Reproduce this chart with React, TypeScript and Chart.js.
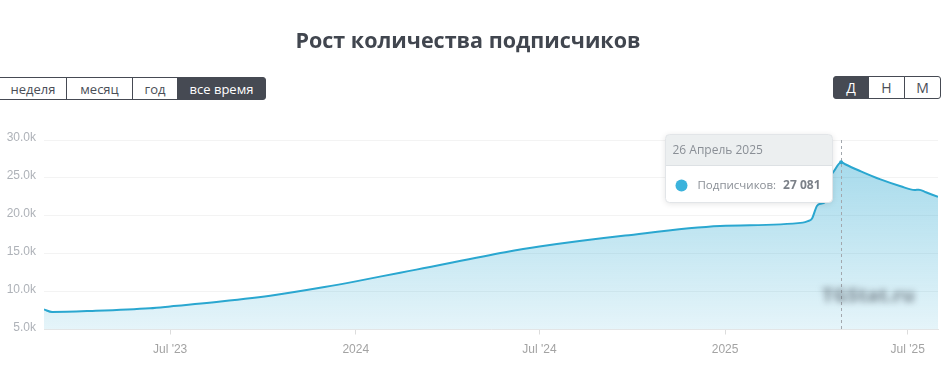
import React, { useEffect, useRef } from "react";
import { Chart, registerables } from "chart.js";

Chart.register(...registerables);

const TITLE = "Рост количества подписчиков";
const rangeButtons = ["неделя", "месяц", "год", "все время"];
const rangeWidths = [68, 67, 46, 89];
const periodButtons = ["Д", "Н", "М"];
const seriesName = "Подписчиков";

const dates = [
  "2023-02-26", "2023-03-06", "2023-04-15", "2023-06-11", "2023-07-01",
  "2023-08-20", "2023-10-13", "2023-12-01", "2024-01-01", "2024-02-14",
  "2024-03-01", "2024-05-28", "2024-07-01", "2024-09-24", "2024-12-27",
  "2025-03-19", "2025-03-24", "2025-03-28", "2025-04-02", "2025-04-06",
  "2025-04-10", "2025-04-13", "2025-04-19", "2025-04-26", "2025-04-30",
  "2025-05-15", "2025-06-04", "2025-06-24", "2025-07-08", "2025-07-12",
  "2025-07-19", "2025-07-31",
];
const subscribers = [
  7640, 7310, 7450, 7800, 8040,
  8700, 9560, 10600, 11350, 12500,
  12900, 15200, 15950, 17400, 18650,
  19100, 19300, 19600, 21300, 21600,
  21800, 24400, 25900, 27081, 26800,
  25900, 24800, 23900, 23400, 23450,
  23100, 22500,
];

const xMinDate = "2023-02-26";
const xMaxDate = "2025-07-31";
const xTickDates = ["2023-07-01", "2024-01-01", "2024-07-01", "2025-01-01", "2025-07-01"];
const xTickLabels = ["Jul '23", "2024", "Jul '24", "2025", "Jul '25"];
const yMin = 5000;
const yMax = 30000;
const yStep = 5000;

const hoverDate = "2025-04-26";
const monthsRu = [
  "Январь", "Февраль", "Март", "Апрель", "Май", "Июнь",
  "Июль", "Август", "Сентябрь", "Октябрь", "Ноябрь", "Декабрь",
];

const dayNum = (s: string) => {
  const [y, m, d] = s.split("-").map(Number);
  return Date.UTC(y, m - 1, d) / 86400000;
};

const fmtThousands = (v: number) =>
  String(Math.round(v)).replace(/\B(?=(\d{3})+(?!\d))/g, " ");

const fmtDateRu = (s: string) => {
  const [y, m, d] = s.split("-").map(Number);
  return `${d} ${monthsRu[m - 1]} ${y}`;
};

const FONT = '"Open Sans", "Noto Sans", sans-serif';

function roundRect(ctx: CanvasRenderingContext2D, x: number, y: number, w: number, h: number, r: number) {
  ctx.beginPath();
  ctx.moveTo(x + r, y);
  ctx.lineTo(x + w - r, y);
  ctx.arcTo(x + w, y, x + w, y + r, r);
  ctx.lineTo(x + w, y + h - r);
  ctx.arcTo(x + w, y + h, x + w - r, y + h, r);
  ctx.lineTo(x + r, y + h);
  ctx.arcTo(x, y + h, x, y + h - r, r);
  ctx.lineTo(x, y + r);
  ctx.arcTo(x, y, x + r, y, r);
  ctx.closePath();
}

const fixedTooltip = {
  id: "fixedTooltip",
  afterDatasetsDraw(chart: any) {
    const idx = dates.indexOf(hoverDate);
    const meta = chart.getDatasetMeta(0);
    const pt = meta.data[idx];
    if (!pt) return;
    const { ctx, chartArea } = chart;
    ctx.save();
    const cx = Math.round(pt.x) + 0.5;
    ctx.strokeStyle = "#a2a7ad";
    ctx.lineWidth = 1;
    ctx.setLineDash([3, 3]);
    ctx.beginPath();
    ctx.moveTo(cx, chartArea.top);
    ctx.lineTo(cx, chartArea.bottom);
    ctx.stroke();
    ctx.setLineDash([]);

    ctx.fillStyle = "#2aa7d0";
    ctx.beginPath();
    ctx.arc(pt.x, pt.y, 2, 0, Math.PI * 2);
    ctx.fill();

    const w = 167;
    const h = 68;
    const bx = Math.round(pt.x) - 9 - w + 0.5;
    const by = Math.round(chartArea.top) - 6 + 0.5;
    const headerH = 31;

    ctx.save();
    ctx.shadowColor = "rgba(0,0,0,0.12)";
    ctx.shadowBlur = 6;
    ctx.shadowOffsetY = 1;
    roundRect(ctx, bx, by, w, h, 4);
    ctx.fillStyle = "#ffffff";
    ctx.fill();
    ctx.restore();

    ctx.save();
    roundRect(ctx, bx, by, w, h, 4);
    ctx.clip();
    ctx.fillStyle = "#eceff0";
    ctx.fillRect(bx, by, w, headerH);
    ctx.strokeStyle = "#dde1e4";
    ctx.beginPath();
    ctx.moveTo(bx, by + headerH);
    ctx.lineTo(bx + w, by + headerH);
    ctx.stroke();
    ctx.restore();

    roundRect(ctx, bx, by, w, h, 4);
    ctx.strokeStyle = "#e2e5e8";
    ctx.stroke();

    ctx.textBaseline = "middle";
    ctx.textAlign = "left";
    ctx.font = `12px ${FONT}`;
    ctx.fillStyle = "#8a8f96";
    ctx.fillText(fmtDateRu(hoverDate), bx + 7, by + 16);

    ctx.fillStyle = "#3bb3dc";
    ctx.beginPath();
    ctx.arc(bx + 16, by + 51, 6, 0, Math.PI * 2);
    ctx.fill();

    ctx.fillStyle = "#8a8f96";
    const label = seriesName + ":";
    ctx.font = `11.5px ${FONT}`;
    ctx.fillText(label, bx + 32, by + 51);
    const lw = ctx.measureText(label).width;
    ctx.font = `bold 12px ${FONT}`;
    ctx.fillStyle = "#7b8088";
    ctx.fillText(fmtThousands(subscribers[idx]), bx + 32 + lw + 7, by + 51);
    ctx.restore();
  },
};

export default function App() {
  const canvasRef = useRef<HTMLCanvasElement | null>(null);

  useEffect(() => {
    const canvas = canvasRef.current;
    if (!canvas) return;
    const points = dates.map((d, i) => ({ x: dayNum(d), y: subscribers[i] }));
    const chart = new Chart(canvas, {
      type: "line",
      data: {
        datasets: [
          {
            label: seriesName,
            data: points,
            borderColor: "#2aa7d0",
            borderWidth: 2,
            pointRadius: 0,
            cubicInterpolationMode: "monotone",
            fill: "start",
            backgroundColor: (c: any) => {
              const area = c.chart.chartArea;
              if (!area) return "rgba(42,167,208,0.3)";
              const g = c.chart.ctx.createLinearGradient(0, area.top, 0, area.bottom);
              g.addColorStop(0, "rgba(42,167,208,0.45)");
              g.addColorStop(1, "rgba(42,167,208,0.12)");
              return g;
            },
          },
        ],
      },
      options: {
        responsive: false,
        animation: false,
        devicePixelRatio: 1,
        events: [],
        layout: { padding: { top: 140, right: 14, left: 0, bottom: 0 } },
        plugins: {
          legend: { display: false },
          tooltip: { enabled: false },
          title: { display: false },
        },
        scales: {
          x: {
            type: "linear",
            min: dayNum(xMinDate),
            max: dayNum(xMaxDate),
            afterBuildTicks: (scale: any) => {
              scale.ticks = xTickDates.map((d) => ({ value: dayNum(d) }));
            },
            afterFit: (scale: any) => {
              scale.height = 48.5;
            },
            grid: {
              drawOnChartArea: false,
              drawTicks: true,
              tickLength: 5,
              color: "#dcdcdc",
            },
            border: { color: "#e6e6e6", width: 1 },
            ticks: {
              autoSkip: false,
              maxRotation: 0,
              padding: 8,
              color: "#a3a3a3",
              font: { family: '"Liberation Sans", Arial, sans-serif', size: 12 },
              callback: (_v: any, i: number) => xTickLabels[i],
            },
          },
          y: {
            min: yMin,
            max: yMax,
            afterFit: (scale: any) => {
              scale.width = 44;
            },
            grid: { color: "#f3f3f3", drawTicks: false },
            border: { display: false },
            ticks: {
              stepSize: yStep,
              padding: 8,
              labelOffset: -2,
              color: "#aeb2b8",
              font: { family: '"Liberation Sans", Arial, sans-serif', size: 12 },
              callback: (v: any) => (Number(v) / 1000).toFixed(1) + "k",
            },
          },
        },
      },
      plugins: [fixedTooltip],
    } as any);
    return () => chart.destroy();
  }, []);

  const btnBase: React.CSSProperties = {
    boxSizing: "border-box",
    height: 23,
    border: "1px solid #464a53",
    display: "flex",
    alignItems: "center",
    justifyContent: "center",
    fontSize: 13,
    fontFamily: FONT,
    color: "#4a4e57",
    background: "#fff",
    marginLeft: -1,
  };

  return (
    <div
      style={{
        position: "fixed",
        left: 0,
        top: 0,
        width: 952,
        height: 378,
        background: "#ffffff",
        overflow: "hidden",
        fontFamily: FONT,
      }}
    >
      <canvas
        ref={canvasRef}
        width={952}
        height={378}
        style={{ position: "absolute", left: 0, top: 0, width: 952, height: 378 }}
      />
      <div
        style={{
          position: "absolute",
          left: 0,
          top: 25,
          width: 936,
          textAlign: "center",
          fontSize: 21.5,
          fontWeight: 700,
          lineHeight: "30px",
          color: "#41464f",
          fontFamily: FONT,
        }}
      >
        {TITLE}
      </div>
      <div style={{ position: "absolute", left: 0, top: 77, display: "flex" }}>
        {rangeButtons.map((b, i) => {
          const active = i === rangeButtons.length - 1;
          return (
            <div
              key={b}
              style={{
                ...btnBase,
                width: rangeWidths[i],
                background: active ? "#464a53" : "#fff",
                color: active ? "#ffffff" : "#4a4e57",
                borderTopRightRadius: active ? 3 : 0,
                borderBottomRightRadius: active ? 3 : 0,
              }}
            >
              {b}
            </div>
          );
        })}
      </div>
      <div style={{ position: "absolute", left: 834, top: 76, display: "flex" }}>
        {periodButtons.map((b, i) => {
          const active = i === 0;
          const last = i === periodButtons.length - 1;
          return (
            <div
              key={b}
              style={{
                ...btnBase,
                width: i === 0 ? 36 : 37,
                background: active ? "#464a53" : "#fff",
                color: active ? "#ffffff" : "#4a4e57",
                fontSize: 14,
                borderTopLeftRadius: active ? 3 : 0,
                borderBottomLeftRadius: active ? 3 : 0,
                borderTopRightRadius: last ? 3 : 0,
                borderBottomRightRadius: last ? 3 : 0,
              }}
            >
              {b}
            </div>
          );
        })}
      </div>
      <div
        style={{
          position: "absolute",
          left: 822,
          top: 282,
          fontSize: 19,
          fontWeight: 800,
          color: "rgba(85,95,105,0.6)",
          filter: "blur(3px)",
          fontFamily: FONT,
        }}
      >
        TGStat.ru
      </div>
    </div>
  );
}
